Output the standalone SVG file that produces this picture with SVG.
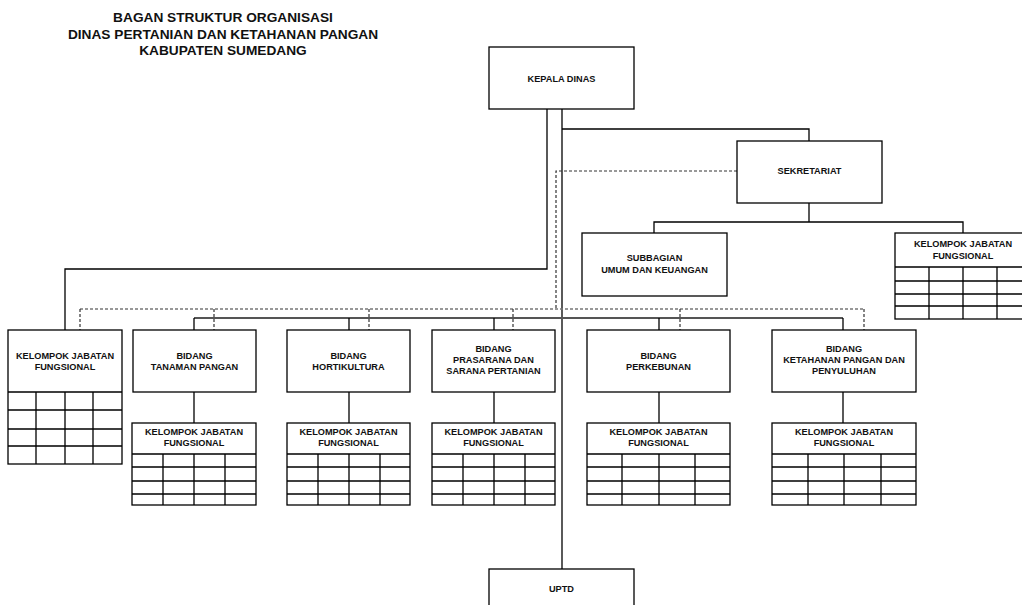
<svg xmlns="http://www.w3.org/2000/svg" width="1022" height="605" viewBox="0 0 1022 605">
<style>
.bg{fill:#fff}
.box{fill:#fff;stroke:#000;stroke-width:1.3}
.grid{fill:none;stroke:#000;stroke-width:1.3}
.ln{fill:none;stroke:#000;stroke-width:1.3}
.bus{fill:none;stroke:#555;stroke-width:1.8}
.dash{fill:none;stroke:#333;stroke-width:1.2;stroke-dasharray:3 2}
.dashg{fill:none;stroke:#777;stroke-width:1.3;stroke-dasharray:3 2}
.t{font-family:"Liberation Sans",Arial,sans-serif;font-weight:bold;font-size:9.2px;fill:#111;text-anchor:middle}
.title{font-family:"Liberation Sans",Arial,sans-serif;font-weight:bold;font-size:13.7px;fill:#111;text-anchor:middle}
</style>
<rect class="bg" x="0" y="0" width="1022" height="605"/>
<g id="title">
<text class="title" x="223" y="22">BAGAN STRUKTUR ORGANISASI</text>
<text class="title" x="223" y="39">DINAS PERTANIAN DAN KETAHANAN PANGAN</text>
<text class="title" x="223" y="55">KABUPATEN SUMEDANG</text>
</g>
<g id="connectors">
<polyline class="ln" points="547,109 547,269 65,269 65,330"/>
<line class="ln" x1="562" y1="109" x2="562" y2="569"/>
<polyline class="ln" points="562,129 809,129 809,141"/>
<line class="ln" x1="809" y1="203" x2="809" y2="222"/>
<polyline class="ln" points="654,233 654,222 963,222 963,233"/>
<polyline class="dash" points="737,171 556,171 556,309"/>
<line class="dashg" x1="80" y1="309" x2="864" y2="309"/>
<line class="dash" x1="80" y1="309" x2="80" y2="330"/>
<line class="dash" x1="214" y1="309" x2="214" y2="330"/>
<line class="dash" x1="369" y1="309" x2="369" y2="330"/>
<line class="dash" x1="513" y1="309" x2="513" y2="330"/>
<line class="dash" x1="680" y1="309" x2="680" y2="330"/>
<line class="dash" x1="864" y1="309" x2="864" y2="330"/>
<line class="bus" x1="194" y1="318" x2="843" y2="318"/>
<line class="ln" x1="194" y1="318" x2="194" y2="330"/>
<line class="ln" x1="349" y1="318" x2="349" y2="330"/>
<line class="ln" x1="494" y1="318" x2="494" y2="330"/>
<line class="ln" x1="659" y1="318" x2="659" y2="330"/>
<line class="ln" x1="843" y1="318" x2="843" y2="330"/>
<line class="ln" x1="194" y1="392" x2="194" y2="423"/>
<line class="ln" x1="349" y1="392" x2="349" y2="423"/>
<line class="ln" x1="494" y1="392" x2="494" y2="423"/>
<line class="ln" x1="659" y1="392" x2="659" y2="423"/>
<line class="ln" x1="843" y1="392" x2="843" y2="423"/>
</g>
<g id="kepala-dinas">
<rect class="box" x="489" y="47" width="145" height="62"/>
<text class="t" x="561.5" y="82">KEPALA DINAS</text>
</g>
<g id="sekretariat">
<rect class="box" x="737" y="141" width="145" height="62"/>
<text class="t" x="809.5" y="174">SEKRETARIAT</text>
</g>
<g id="subbagian">
<rect class="box" x="582" y="233" width="145" height="63"/>
<text class="t" x="654.5" y="261">SUBBAGIAN</text>
<text class="t" x="654.5" y="273">UMUM DAN KEUANGAN</text>
</g>
<g id="kjf-sekretariat">
<rect class="box" x="895" y="233" width="136" height="86"/>
<path class="grid" d="M895,267H1031M895,281H1031M895,294H1031M895,306H1031M929,267V319M963,267V319M997,267V319"/>
<text class="t" x="963" y="247">KELOMPOK JABATAN</text>
<text class="t" x="963" y="259">FUNGSIONAL</text>
</g>
<g id="kjf-kepala">
<rect class="box" x="8" y="330" width="114" height="134"/>
<path class="grid" d="M8,392H122M8,410H122M8,429H122M8,446H122M36,392V464M65,392V464M93,392V464"/>
<text class="t" x="65" y="359">KELOMPOK JABATAN</text>
<text class="t" x="65" y="370">FUNGSIONAL</text>
</g>
<g id="bidang-tanaman-pangan">
<rect class="box" x="133" y="330" width="123" height="62"/>
<text class="t" x="194.5" y="359">BIDANG</text>
<text class="t" x="194.5" y="370">TANAMAN PANGAN</text>
</g>
<g id="bidang-hortikultura">
<rect class="box" x="287" y="330" width="123" height="62"/>
<text class="t" x="348.5" y="359">BIDANG</text>
<text class="t" x="348.5" y="370">HORTIKULTURA</text>
</g>
<g id="bidang-prasarana">
<rect class="box" x="432" y="330" width="123" height="62"/>
<text class="t" x="493.5" y="352">BIDANG</text>
<text class="t" x="493.5" y="363">PRASARANA DAN</text>
<text class="t" x="493.5" y="374">SARANA PERTANIAN</text>
</g>
<g id="bidang-perkebunan">
<rect class="box" x="587" y="330" width="143" height="62"/>
<text class="t" x="658.5" y="359">BIDANG</text>
<text class="t" x="658.5" y="370">PERKEBUNAN</text>
</g>
<g id="bidang-ketahanan-pangan">
<rect class="box" x="772" y="330" width="144" height="62"/>
<text class="t" x="844" y="352">BIDANG</text>
<text class="t" x="844" y="363">KETAHANAN PANGAN DAN</text>
<text class="t" x="844" y="374">PENYULUHAN</text>
</g>
<g id="kjf-tanaman-pangan">
<rect class="box" x="132" y="423" width="124" height="82"/>
<path class="grid" d="M132,454H256M132,467H256M132,481H256M132,494H256M163,454V505M194,454V505M225,454V505"/>
<text class="t" x="194" y="435">KELOMPOK JABATAN</text>
<text class="t" x="194" y="446">FUNGSIONAL</text>
</g>
<g id="kjf-hortikultura">
<rect class="box" x="287" y="423" width="123" height="82"/>
<path class="grid" d="M287,454H410M287,467H410M287,481H410M287,494H410M318,454V505M349,454V505M380,454V505"/>
<text class="t" x="348.5" y="435">KELOMPOK JABATAN</text>
<text class="t" x="348.5" y="446">FUNGSIONAL</text>
</g>
<g id="kjf-prasarana">
<rect class="box" x="432" y="423" width="123" height="82"/>
<path class="grid" d="M432,454H555M432,467H555M432,481H555M432,494H555M463,454V505M494,454V505M525,454V505"/>
<text class="t" x="493.5" y="435">KELOMPOK JABATAN</text>
<text class="t" x="493.5" y="446">FUNGSIONAL</text>
</g>
<g id="kjf-perkebunan">
<rect class="box" x="587" y="423" width="143" height="82"/>
<path class="grid" d="M587,454H730M587,467H730M587,481H730M587,494H730M622,454V505M659,454V505M695,454V505"/>
<text class="t" x="658.5" y="435">KELOMPOK JABATAN</text>
<text class="t" x="658.5" y="446">FUNGSIONAL</text>
</g>
<g id="kjf-ketahanan-pangan">
<rect class="box" x="772" y="423" width="144" height="82"/>
<path class="grid" d="M772,454H916M772,467H916M772,481H916M772,494H916M808,454V505M844,454V505M881,454V505"/>
<text class="t" x="844" y="435">KELOMPOK JABATAN</text>
<text class="t" x="844" y="446">FUNGSIONAL</text>
</g>
<g id="uptd">
<rect class="box" x="489" y="569" width="145" height="62"/>
<text class="t" x="561.5" y="592">UPTD</text>
</g>
</svg>
